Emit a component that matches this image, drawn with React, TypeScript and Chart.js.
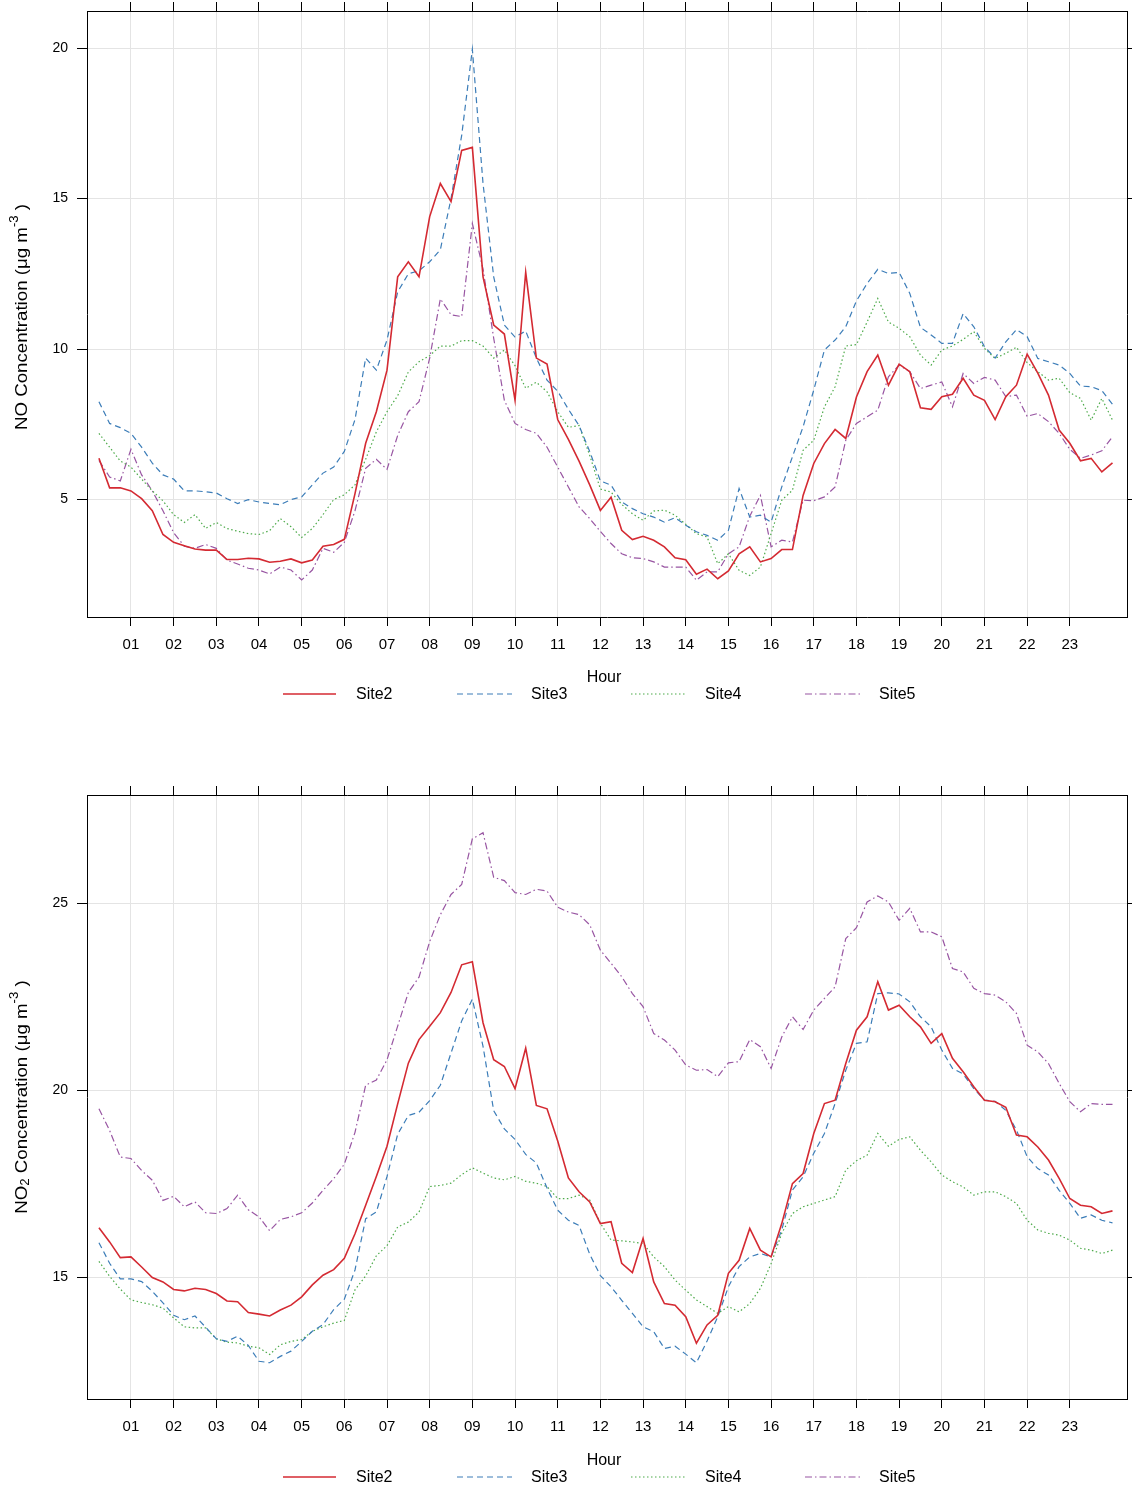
import React, { useEffect, useRef } from 'react';
import { Chart, registerables } from 'chart.js';

Chart.register(...registerables);

// ---------- data ----------
// time of day (hours), one value every 15 minutes, 00:15 ... 24:00
const hours: number[] = Array.from({ length: 96 }, (_, i) => (i + 1) / 4);
const hourTicks = [1, 2, 3, 4, 5, 6, 7, 8, 9, 10, 11, 12, 13, 14, 15, 16, 17, 18, 19, 20, 21, 22, 23];
const noTicks = [5, 10, 15, 20];
const no2Ticks = [15, 20, 25];
const siteNames = ['Site2', 'Site3', 'Site4', 'Site5'];

// NO concentration (µg m-3)
const noSite2 = [
  6.37, 5.39, 5.39, 5.29, 5.03, 4.63, 3.84, 3.58, 3.47, 3.36, 3.32, 3.32,
  3.01, 3.01, 3.05, 3.03, 2.92, 2.95, 3.03, 2.9, 2.99, 3.45, 3.51, 3.68,
  5.2, 6.87, 7.92, 9.3, 12.4, 12.9, 12.4, 14.4, 15.5, 14.9, 16.6, 16.7,
  12.4, 10.8, 10.5, 8.3, 12.55, 9.7, 9.5, 7.66, 7.0, 6.28, 5.49, 4.64,
  5.08, 3.98, 3.67, 3.78, 3.65, 3.43, 3.07, 3.0, 2.52, 2.69, 2.37, 2.63,
  3.2, 3.43, 2.93, 3.04, 3.34, 3.34, 5.14, 6.2, 6.86, 7.33, 7.03, 8.41,
  9.25, 9.8, 8.8, 9.5, 9.25, 8.05, 8.0, 8.42, 8.5, 9.03, 8.47, 8.3,
  7.66, 8.42, 8.8, 9.83, 9.2, 8.47, 7.31, 6.87, 6.29, 6.37, 5.92, 6.22,
];
const noSite3 = [
  8.25, 7.53, 7.39, 7.2, 6.74, 6.21, 5.82, 5.68, 5.29, 5.29, 5.26, 5.22,
  5.03, 4.87, 5.0, 4.92, 4.87, 4.83, 5.0, 5.09, 5.49, 5.88, 6.08, 6.6,
  7.66, 9.7, 9.3, 10.3, 11.9, 12.5, 12.6, 12.9, 13.3, 15.0, 17.1, 19.96,
  15.5, 12.4, 10.8, 10.4, 10.6, 9.7, 8.97, 8.6, 8.0, 7.46, 6.6, 5.62,
  5.48, 4.92, 4.7, 4.53, 4.42, 4.25, 4.4, 4.15, 3.93, 3.81, 3.65, 3.98,
  5.37, 4.42, 4.48, 4.25, 5.42, 6.42, 7.42, 8.64, 9.97, 10.3, 10.74, 11.6,
  12.18, 12.65, 12.51, 12.55, 11.85, 10.72, 10.47, 10.19, 10.19, 11.18, 10.74, 10.08,
  9.7, 10.24, 10.65, 10.41, 9.69, 9.58, 9.47, 9.19, 8.77, 8.75, 8.62, 8.17,
];
const noSite4 = [
  7.2, 6.74, 6.28, 6.08, 5.68, 5.29, 4.96, 4.5, 4.24, 4.5, 4.04, 4.24,
  4.04, 3.95, 3.87, 3.84, 3.97, 4.37, 4.1, 3.74, 4.04, 4.5, 5.0, 5.16,
  5.49, 6.34, 7.25, 7.92, 8.45, 9.24, 9.58, 9.78, 10.1, 10.1, 10.28, 10.28,
  10.1, 9.7, 9.97, 9.45, 8.7, 8.9, 8.58, 7.92, 7.4, 7.46, 6.47, 5.35,
  5.25, 4.84, 4.53, 4.31, 4.62, 4.65, 4.48, 4.18, 3.87, 3.76, 2.87, 3.2,
  2.65, 2.48, 2.76, 3.87, 4.98, 5.31, 6.64, 6.97, 8.08, 8.75, 10.1, 10.15,
  10.9, 11.68, 10.9, 10.69, 10.41, 9.8, 9.47, 9.97, 10.1, 10.32, 10.58, 10.02,
  9.69, 9.86, 10.06, 9.55, 9.25, 8.97, 9.03, 8.55, 8.36, 7.64, 8.36, 7.64,
];
const noSite5 = [
  6.3, 5.75, 5.62, 6.67, 5.82, 5.29, 4.63, 3.9, 3.45, 3.38, 3.51, 3.38,
  2.99, 2.86, 2.72, 2.66, 2.53, 2.76, 2.66, 2.33, 2.66, 3.38, 3.25, 3.58,
  4.63, 6.04, 6.34, 6.0, 7.13, 7.92, 8.25, 9.7, 11.67, 11.14, 11.08, 14.17,
  12.66, 10.36, 8.3, 7.53, 7.33, 7.2, 6.74, 6.08, 5.42, 4.76, 4.37, 3.94,
  3.54, 3.2, 3.07, 3.04, 2.93, 2.76, 2.76, 2.76, 2.32, 2.6, 2.6, 3.2,
  3.43, 4.45, 5.14, 3.43, 3.65, 3.59, 4.98, 4.96, 5.09, 5.42, 6.97, 7.53,
  7.75, 7.97, 9.08, 9.47, 9.25, 8.69, 8.8, 8.91, 8.08, 9.19, 8.86, 9.06,
  8.97, 8.42, 8.47, 7.77, 7.86, 7.59, 7.2, 6.67, 6.37, 6.48, 6.62, 7.09,
];

// NO2 concentration (µg m-3)
const no2Site2 = [
  16.33, 15.95, 15.53, 15.55, 15.28, 15.0, 14.88, 14.68, 14.64, 14.71, 14.68, 14.57,
  14.37, 14.35, 14.06, 14.02, 13.97, 14.13, 14.26, 14.48, 14.8, 15.06, 15.21, 15.51,
  16.17, 16.93, 17.7, 18.51, 19.64, 20.73, 21.36, 21.72, 22.08, 22.62, 23.36, 23.44,
  21.81, 20.82, 20.64, 20.05, 21.13, 19.6, 19.51, 18.65, 17.66, 17.29, 17.02, 16.44,
  16.49, 15.38, 15.13, 16.04, 14.88, 14.3, 14.26, 13.95, 13.24, 13.73, 13.99, 15.11,
  15.46, 16.31, 15.73, 15.55, 16.44, 17.51, 17.78, 18.85, 19.65, 19.74, 20.72, 21.61,
  21.97, 22.91, 22.15, 22.28, 21.97, 21.7, 21.26, 21.52, 20.86, 20.5, 20.1, 19.74,
  19.7, 19.55, 18.81, 18.76, 18.49, 18.14, 17.65, 17.11, 16.93, 16.89, 16.71, 16.78,
];
const no2Site3 = [
  15.93, 15.38, 14.96, 14.96, 14.89, 14.63, 14.32, 13.99, 13.87, 13.97, 13.67, 13.36,
  13.29, 13.43, 13.18, 12.76, 12.72, 12.89, 13.03, 13.29, 13.56, 13.74, 14.14, 14.42,
  15.2, 16.57, 16.75, 17.7, 18.83, 19.33, 19.42, 19.73, 20.14, 21.0, 21.86, 22.44,
  21.18, 19.46, 18.97, 18.69, 18.29, 18.06, 17.39, 16.8, 16.53, 16.39, 15.62, 15.05,
  14.75, 14.39, 14.04, 13.68, 13.55, 13.1, 13.16, 12.95, 12.72, 13.3, 13.95, 14.75,
  15.29, 15.55, 15.64, 15.55, 16.27, 17.34, 17.69, 18.32, 18.85, 19.65, 20.54, 21.26,
  21.3, 22.59, 22.61, 22.58, 22.37, 21.97, 21.7, 21.08, 20.59, 20.44, 20.05, 19.74,
  19.71, 19.47, 18.94, 18.23, 17.91, 17.74, 17.33, 16.98, 16.58, 16.67, 16.53, 16.46,
];
const no2Site4 = [
  15.43, 15.03, 14.69, 14.4, 14.33, 14.27, 14.18, 13.92, 13.68, 13.65, 13.65, 13.36,
  13.27, 13.25, 13.16, 13.12, 12.94, 13.2, 13.29, 13.34, 13.56, 13.68, 13.78, 13.85,
  14.67, 15.04, 15.58, 15.85, 16.35, 16.48, 16.75, 17.43, 17.46, 17.52, 17.75, 17.93,
  17.79, 17.66, 17.61, 17.7, 17.57, 17.52, 17.43, 17.11, 17.11, 17.2, 17.07, 16.45,
  16.0, 15.98, 15.95, 15.91, 15.55, 15.29, 14.93, 14.66, 14.4, 14.22, 14.04, 14.22,
  14.08, 14.3, 14.71, 15.37, 16.18, 16.71, 16.89, 16.98, 17.07, 17.16, 17.87, 18.12,
  18.27, 18.85, 18.51, 18.69, 18.76, 18.4, 18.09, 17.74, 17.56, 17.42, 17.2, 17.29,
  17.29, 17.16, 16.98, 16.53, 16.27, 16.18, 16.13, 16.0, 15.78, 15.73, 15.64, 15.73,
];
const no2Site5 = [
  19.51, 18.93, 18.22, 18.18, 17.86, 17.6, 17.06, 17.17, 16.89, 17.02, 16.73, 16.71,
  16.84, 17.2, 16.81, 16.62, 16.25, 16.55, 16.62, 16.73, 16.99, 17.33, 17.64, 18.03,
  18.88, 20.14, 20.28, 20.82, 21.72, 22.62, 23.03, 23.98, 24.7, 25.24, 25.51, 26.73,
  26.89, 25.7, 25.61, 25.29, 25.24, 25.38, 25.33, 24.9, 24.77, 24.7, 24.43, 23.75,
  23.4, 23.04, 22.59, 22.24, 21.52, 21.35, 21.08, 20.68, 20.54, 20.56, 20.37, 20.74,
  20.77, 21.36, 21.17, 20.59, 21.43, 21.97, 21.63, 22.15, 22.46, 22.77, 24.06, 24.35,
  25.04, 25.2, 25.04, 24.55, 24.87, 24.24, 24.24, 24.11, 23.26, 23.17, 22.73, 22.59,
  22.55, 22.37, 22.06, 21.21, 21.03, 20.72, 20.19, 19.7, 19.43, 19.65, 19.63, 19.63,
];

// ---------- styling ----------
const FONT = "'Liberation Sans', Arial, Helvetica, sans-serif";
const GRID = '#e4e4e4';
const siteColors = ['#D42A32', '#3C7DB8', '#4DAA4A', '#9855A2'];
const siteDashes: number[][] = [[], [6, 4], [1.5, 2.5], [7, 3, 1.5, 3]];
const siteWidths = [1.6, 1.2, 1.2, 1.2];
const legendLine = [[283, 336], [457, 512], [631, 686], [805, 860]];
const legendText = [356, 531, 705, 879];

type Part = { t: string; kind?: 'sup' | 'sub' };

const annotPlugin = {
  id: 'annot',
  afterDraw(chart: any, _args: any, opts: any) {
    const ctx: CanvasRenderingContext2D = chart.ctx;
    const area = chart.chartArea;
    ctx.save();
    ctx.fillStyle = '#000';
    // x axis title
    ctx.font = `16px ${FONT}`;
    ctx.textAlign = 'center';
    ctx.textBaseline = 'middle';
    ctx.fillText('Hour', 604, area.bottom + opts.hourDy);
    // legend
    const ly = area.bottom + opts.legendDy;
    for (let i = 0; i < siteNames.length; i++) {
      ctx.save();
      ctx.strokeStyle = siteColors[i];
      ctx.lineWidth = siteWidths[i];
      ctx.setLineDash(siteDashes[i]);
      ctx.beginPath();
      ctx.moveTo(legendLine[i][0], ly - 1);
      ctx.lineTo(legendLine[i][1], ly - 1);
      ctx.stroke();
      ctx.restore();
      ctx.textAlign = 'left';
      ctx.fillText(siteNames[i], legendText[i], ly);
    }
    // y axis title (rotated, with super/subscripts)
    const parts: Part[] = opts.yTitle;
    const fontFor = (p: Part) => (p.kind ? `12px ${FONT}` : `17px ${FONT}`);
    let total = 0;
    const widths = parts.map((p) => {
      ctx.font = fontFor(p);
      const w = ctx.measureText(p.t).width;
      total += w;
      return w;
    });
    ctx.translate(22, (area.top + area.bottom) / 2 + opts.yTitleDy);
    ctx.rotate(-Math.PI / 2);
    ctx.scale(1.1, 1);
    ctx.textAlign = 'left';
    ctx.textBaseline = 'middle';
    let x = -total / 2;
    parts.forEach((p, i) => {
      ctx.font = fontFor(p);
      const dy = p.kind === 'sup' ? -7 : p.kind === 'sub' ? 4 : 0;
      ctx.fillText(p.t, x, dy);
      x += widths[i];
    });
    ctx.restore();
  },
};

const X_MIN = -0.03;
const X_MAX = 24.34;

function noPad(s: any) {
  s.paddingTop = 0;
  s.paddingBottom = 0;
  s.paddingLeft = 0;
  s.paddingRight = 0;
}

function buildConfig(p: {
  series: number[][];
  yMin: number;
  yMax: number;
  yTicks: number[];
  topH: number;
  bottomH: number;
  yTitle: Part[];
  yTitleDy: number;
  hourDy: number;
  legendDy: number;
}) {
  const setTicks = (vals: number[]) => (s: any) => {
    s.ticks = vals.map((v) => ({ value: v }));
  };
  const border = { display: true, color: '#000', width: 1 };
  const tickFont = { family: FONT, size: 14 };
  return {
    type: 'line' as const,
    data: {
      datasets: p.series.map((vals, i) => ({
        label: siteNames[i],
        data: vals.map((v, j) => ({ x: hours[j], y: v })),
        borderColor: siteColors[i],
        borderWidth: siteWidths[i],
        borderDash: siteDashes[i],
        pointRadius: 0,
        fill: false,
        tension: 0,
      })),
    },
    options: {
      animation: false as const,
      responsive: false,
      maintainAspectRatio: false,
      devicePixelRatio: 1,
      layout: { padding: 0, autoPadding: false },
      events: [],
      plugins: {
        legend: { display: false },
        tooltip: { enabled: false },
        annot: { yTitle: p.yTitle, yTitleDy: p.yTitleDy, hourDy: p.hourDy, legendDy: p.legendDy },
      },
      scales: {
        x: {
          type: 'linear',
          axis: 'x',
          position: 'bottom',
          min: X_MIN,
          max: X_MAX,
          afterBuildTicks: setTicks(hourTicks),
          afterFit: (s: any) => {
            s.height = p.bottomH;
            noPad(s);
          },
          grid: { color: GRID, lineWidth: 1, drawTicks: true, tickLength: 9, tickColor: '#000', tickWidth: 1 },
          border,
          ticks: {
            color: '#000',
            font: { family: FONT, size: 15 },
            padding: 10,
            maxRotation: 0,
            autoSkip: false,
            callback: (v: any) => String(v).padStart(2, '0'),
          },
        },
        x2: {
          type: 'linear',
          axis: 'x',
          position: 'top',
          min: X_MIN,
          max: X_MAX,
          afterBuildTicks: setTicks(hourTicks),
          afterFit: (s: any) => {
            s.height = p.topH;
            noPad(s);
          },
          grid: { drawOnChartArea: false, drawTicks: true, tickLength: 9, tickColor: '#000', tickWidth: 1 },
          border,
          ticks: { display: false },
        },
        y: {
          type: 'linear',
          axis: 'y',
          position: 'left',
          min: p.yMin,
          max: p.yMax,
          afterBuildTicks: setTicks(p.yTicks),
          afterFit: (s: any) => {
            s.width = 87;
            noPad(s);
          },
          grid: { color: GRID, lineWidth: 1, drawTicks: true, tickLength: 10, tickColor: '#000', tickWidth: 1 },
          border,
          ticks: { color: '#000', font: tickFont, padding: 9 },
        },
        y2: {
          type: 'linear',
          axis: 'y',
          position: 'right',
          min: p.yMin,
          max: p.yMax,
          afterBuildTicks: setTicks(p.yTicks),
          afterFit: (s: any) => {
            s.width = 5;
            noPad(s);
          },
          grid: { drawOnChartArea: false, drawTicks: true, tickLength: 6, tickColor: '#000', tickWidth: 1 },
          border,
          ticks: { display: false },
        },
      },
    },
    plugins: [annotPlugin],
  };
}

function Panel(props: { top: number; height: number; cfg: Parameters<typeof buildConfig>[0] }) {
  const ref = useRef<HTMLCanvasElement>(null);
  useEffect(() => {
    const chart = new Chart(ref.current as HTMLCanvasElement, buildConfig(props.cfg) as any);
    return () => chart.destroy();
  }, []);
  return (
    <canvas
      ref={ref}
      width={1132}
      height={props.height}
      style={{ position: 'absolute', left: 0, top: props.top, width: 1132, height: props.height }}
    />
  );
}

export default function App() {
  return (
    <div style={{ position: 'absolute', left: 0, top: 0, width: 1132, height: 1490, background: '#fff' }}>
      <Panel
        top={0}
        height={720}
        cfg={{
          series: [noSite2, noSite3, noSite4, noSite5],
          yMin: 1.1,
          yMax: 21.23,
          yTicks: noTicks,
          topH: 11,
          bottomH: 103,
          yTitle: [{ t: 'NO Concentration (μg m' }, { t: '-3', kind: 'sup' }, { t: ' )' }],
          yTitleDy: 3,
          hourDy: 61,
          legendDy: 78,
        }}
      />
      <Panel
        top={720}
        height={770}
        cfg={{
          series: [no2Site2, no2Site3, no2Site4, no2Site5],
          yMin: 11.75,
          yMax: 27.9,
          yTicks: no2Ticks,
          topH: 75,
          bottomH: 91,
          yTitle: [
            { t: 'NO' },
            { t: '2', kind: 'sub' },
            { t: ' Concentration (μg m' },
            { t: '-3', kind: 'sup' },
            { t: ' )' },
          ],
          yTitleDy: 0,
          hourDy: 62,
          legendDy: 79,
        }}
      />
    </div>
  );
}
